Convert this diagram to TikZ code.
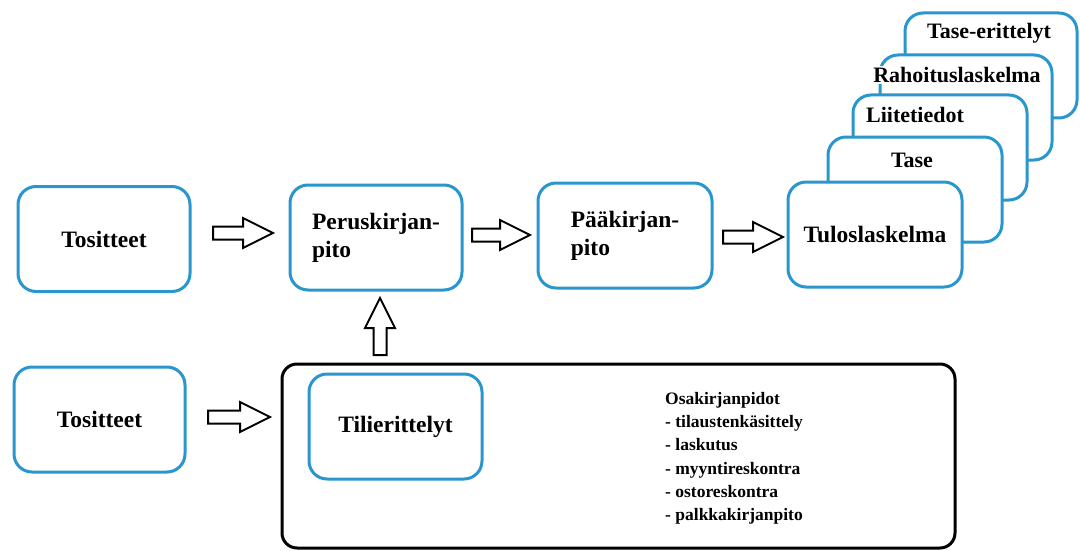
\documentclass[tikz,border=0pt]{standalone}
\usepackage{fontspec}
\setmainfont{Liberation Serif}
\usetikzlibrary{calc}
\definecolor{boxblue}{RGB}{41,151,205}
\tikzset{
  bbox/.style={draw=boxblue, line width=3pt, rounded corners=18pt, fill=white,
    minimum width=172pt, minimum height=105pt, inner sep=0pt,
    font=\fontsize{23.5}{28}\selectfont\bfseries},
  stacklbl/.style={font=\fontsize{22}{26}\selectfont\bfseries, inner sep=1.5pt, fill=white},
  frame/.style={draw=black, line width=3pt, rounded corners=15pt, fill=white,
    minimum width=673pt, minimum height=184pt, inner sep=0pt},
  listtxt/.style={font=\fontsize{17.5}{23.3}\selectfont\bfseries, inner sep=0pt, align=left},
  barrow/.pic={\draw[line width=2pt, fill=white, line join=miter]
    (-#1/2,-6.5) -- (#1/2-30,-6.5) -- (#1/2-30,-15) -- (#1/2,0) -- (#1/2-30,15)
    -- (#1/2-30,6.5) -- (-#1/2,6.5) -- cycle;}
}
\begin{document}
\begin{tikzpicture}[x=1pt,y=-1pt]
\useasboundingbox (0,0) rectangle (1080,551);
% top row
\node[bbox] (tos1) at (104,239) {Tositteet};
\node[bbox, align=left] (per) at (376,237.5) {Peruskirjan-\\pito};
\node[bbox, align=left, minimum width=174pt] (paa) at (625,235.5) {Pääkirjan-\\pito};
% stacked reports (back to front)
\node[bbox] (taseer) at (991,65.5) {};
\node[stacklbl] (taseerl) at (989,33) {Tase-erittelyt};
\node[bbox] (rah) at (966,107.5) {};
\node[stacklbl] (rahl) at (957,75) {Rahoituslaskelma};
\node[bbox, minimum width=174pt] (liite) at (940,147.5) {};
\node[stacklbl] (liitel) at (915,115) {Liitetiedot};
\node[bbox, minimum width=174pt] (tase) at (915,189.5) {};
\node[stacklbl] (tasel) at (912,160) {Tase};
\node[bbox, minimum width=174pt] (tulos) at (875,234.5) {Tuloslaskelma};
% bottom row
\node[bbox, minimum width=171pt] (tos2) at (99.5,419.5) {Tositteet};
\node[frame] (osa) at (618.5,456) {};
\node[bbox, minimum width=173pt] (tili) at (395.5,426.5) {Tilierittelyt};
\node[listtxt, anchor=north west] (lista) at (665,392) {Osakirjanpidot\\- tilaustenkäsittely\\- laskutus\\- myyntireskontra\\- ostoreskontra\\- palkkakirjanpito};
% block arrows
\coordinate (a1) at (243,233);
\coordinate (a2) at (501,235);
\coordinate (a3) at (753,237);
\coordinate (a4) at (239,417);
\coordinate (a5) at (380,326.5);
\pic at (a1) {barrow=60};
\pic at (a2) {barrow=58};
\pic at (a3) {barrow=60};
\pic at (a4) {barrow=62};
\pic[rotate=90] at (a5) {barrow=57};
\end{tikzpicture}
\end{document}
